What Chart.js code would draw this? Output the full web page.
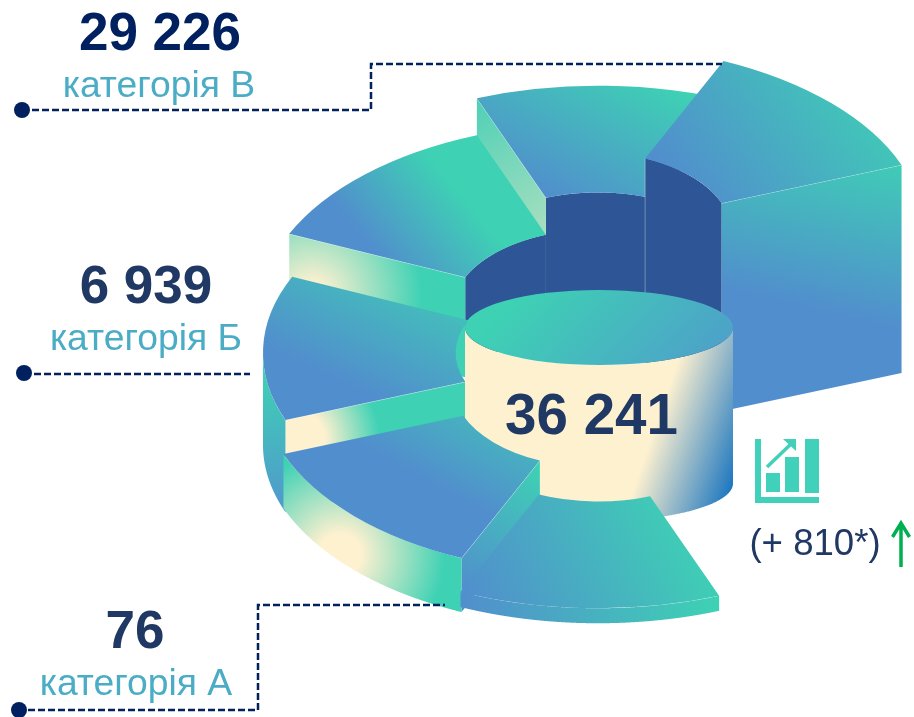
<!DOCTYPE html>
<html>
<head>
<meta charset="utf-8">
<style>
  html, body { margin: 0; padding: 0; background: #fff; overflow: hidden; }
  #stage { position: relative; width: 914px; height: 717px; }
  canvas, svg { position: absolute; left: 0; top: 0; }
  text { font-family: "Liberation Sans", Arial, sans-serif; }
</style>
<script src="https://cdn.jsdelivr.net/npm/chart.js"></script>
</head>
<body>
<div id="stage">
  <canvas id="ringBack" width="914" height="717"></canvas>
  <canvas id="hub" width="914" height="717"></canvas>
  <canvas id="ringFront" width="914" height="717"></canvas>
  <svg id="notes" width="914" height="717"></svg>
</div>
<script>
// values as printed on the picture
const categoryNames = ['категорія В', 'категорія Б', 'категорія А'];
const categoryValues = ['29 226', '6 939', '76'];
const totalValue = 36241;
const totalLabel = '36 241';
const changeLabel = '(+ 810*)';

const sliceNames = ['bottom left', 'left', 'upper left', 'top', 'right', 'gap', 'bottom'];
const sliceSpans = [45, 45, 45, 45, 45, 90, 45];
const ringRotation = -156;

const TEAL = '#3ed1b4', BLUE = '#518ecd', CREAM = '#fef1d0', DARK = '#2e5596';

// how each wedge is pulled out and how tall it is, in screen pixels
const solids = [
  { cx: 599, cy: 387, q: 0.554, h: 54,
    top: { to: [430, 500, 590, 410], stops: [[0.1, BLUE], [1, TEAL]] },
    start: { to: [535, 465, 465, 590], stops: [[0, TEAL], [1, BLUE]] },
    outer: { to: [340, 555, 105], stops: [[0.2, CREAM], [1, TEAL]] } },
  { cx: 601, cy: 353, q: 0.554, h: 92,
    top: { to: [330, 395, 500, 285], stops: [[0.1, BLUE], [1, TEAL]] },
    start: { to: [295, 440, 85], stops: [[0.35, CREAM], [1, TEAL]] },
    outer: { to: [262, 370, 278, 500], stops: [[0, TEAL], [1, '#4f9ccb']] } },
  { cx: 598, cy: 310, q: 0.554, h: 100,
    top: { to: [355, 228, 465, 200], stops: [[0, BLUE], [1, TEAL]] },
    start: { to: [312, 295, 110], stops: [[0.1, CREAM], [1, TEAL]] },
    inner: DARK },
  { cx: 598, cy: 273, q: 0.554, h: 130,
    top: { to: [530, 190, 690, 95], stops: [[0, BLUE], [1, TEAL]] },
    start: { to: [475, 100, 548, 235], stops: [[0, '#4fd0b6'], [1, '#a9dfc0']] },
    inner: DARK },
  { cx: 586, cy: 232, q: 0.554, h: 208,
    top: { to: [680, 190, 930, 130], stops: [[0, BLUE], [1, TEAL]] },
    end: { to: [900, 150, 860, 320], stops: [[0, TEAL], [1, BLUE]] },
    inner: DARK, innerEdge: true },
  null,
  { cx: 598, cy: 421, q: 0.554, h: 15,
    top: { to: [470, 610, 720, 570], stops: [[0, BLUE], [1, TEAL]] },
    outer: { to: [460, 615, 715, 600], stops: [[0, BLUE], [1, TEAL]] } }
];

const hubSolid = { cx: 599, cy: 327.5, q: 0.28, h: 156,
  top: { to: [495, 320, 760, 340], stops: [[0, TEAL], [1, '#4f9ccb']] },
  outer: { to: [685, 340, 772, 370], stops: [[0, CREAM], [1, '#1f78c0']] } };

function makeFill(ctx, spec) {
  if (typeof spec === 'string') return spec;
  const t = spec.to;
  const g = t.length === 3
    ? ctx.createRadialGradient(t[0], t[1], 0, t[0], t[1], t[2])
    : ctx.createLinearGradient(t[0], t[1], t[2], t[3]);
  spec.stops.forEach(s => g.addColorStop(s[0], s[1]));
  return g;
}

// gradient for the top face, moved from screen space into the arc's own unsquashed space
function topFill(c, solid) {
  if (!solid) return 'rgba(0,0,0,0)';
  const mx = c.chart.width / 2, my = c.chart.height / 2;
  const t = solid.top.to;
  const local = [
    mx + t[0] - solid.cx, my + (t[1] - solid.cy) / solid.q,
    mx + t[2] - solid.cx, my + (t[3] - solid.cy) / solid.q
  ];
  return makeFill(c.chart.ctx, { to: local, stops: solid.top.stops });
}

function wallPath(ctx, arc, s, r, from, to, wanted) {
  const top = [];
  const steps = 720;
  for (let i = 0; i <= steps; i++) {
    const a = from + (to - from) * i / steps;
    if (wanted(a)) top.push([s.cx + r * Math.cos(a), s.cy + r * Math.sin(a) * s.q]);
  }
  if (top.length < 2) return false;
  ctx.beginPath();
  top.forEach((p, i) => i ? ctx.lineTo(p[0], p[1]) : ctx.moveTo(p[0], p[1]));
  top.reverse().forEach(p => ctx.lineTo(p[0], p[1] + s.h));
  ctx.closePath();
  return true;
}

function sidePath(ctx, arc, s, a) {
  const c = Math.cos(a), n = Math.sin(a) * s.q;
  const ix = s.cx + arc.innerRadius * c, iy = s.cy + arc.innerRadius * n;
  const ox = s.cx + arc.outerRadius * c, oy = s.cy + arc.outerRadius * n;
  ctx.beginPath();
  ctx.moveTo(ix, iy);
  ctx.lineTo(ox, oy);
  ctx.lineTo(ox, oy + s.h);
  ctx.lineTo(ix, iy + s.h);
  ctx.closePath();
  // pale seam along the top edge
  return [ix, iy, ox, oy];
}

function seam(ctx, e, alpha) {
  ctx.save();
  ctx.strokeStyle = 'rgba(255,255,255,' + alpha + ')';
  ctx.lineWidth = 1;
  ctx.beginPath();
  ctx.moveTo(e[0], e[1]);
  ctx.lineTo(e[2], e[3]);
  ctx.stroke();
  ctx.restore();
}

function drawSolid(ctx, arc, s) {
  const from = arc.startAngle, to = arc.endAngle;
  if (s.inner && wallPath(ctx, arc, s, arc.innerRadius, from, to, a => Math.sin(a) < 0)) {
    ctx.fillStyle = makeFill(ctx, s.inner);
    ctx.fill();
    if (s.innerEdge) {
      const x = s.cx + arc.innerRadius * Math.cos(from), y = s.cy + arc.innerRadius * Math.sin(from) * s.q;
      seam(ctx, [x, y, x, y + s.h], 0.35);
    }
  }
  if (s.start && Math.cos(from) < 0) {
    const e = sidePath(ctx, arc, s, from);
    ctx.fillStyle = makeFill(ctx, s.start);
    ctx.fill();
    seam(ctx, e, 0.55);
  }
  if (s.end && Math.cos(to) > 0) {
    const e = sidePath(ctx, arc, s, to);
    ctx.fillStyle = makeFill(ctx, s.end);
    ctx.fill();
    seam(ctx, e, 0.55);
  }
  if (s.outer && wallPath(ctx, arc, s, arc.outerRadius, from, to, a => Math.sin(a) > 0)) {
    ctx.fillStyle = makeFill(ctx, s.outer);
    ctx.fill();
  }
  // the top face is the library's own arc, squashed and moved into place
  ctx.save();
  ctx.translate(s.cx, s.cy);
  ctx.scale(1, s.q);
  ctx.translate(-arc.x, -arc.y);
  arc.draw(ctx);
  ctx.restore();
}

const solidPlugin = {
  id: 'solid3d',
  beforeDatasetsDraw(chart, args, opts) {
    const arcs = chart.getDatasetMeta(0).data;
    opts.order.forEach(i => drawSolid(chart.ctx, arcs[i], opts.solids[i]));
    return false;
  }
};

function baseOptions(order, list, rotation) {
  return {
    responsive: false,
    animation: false,
    rotation: rotation,
    events: [],
    plugins: {
      legend: { display: false },
      tooltip: { enabled: false },
      solid3d: { order: order, solids: list }
    }
  };
}

function makeRing(id, order) {
  return new Chart(document.getElementById(id), {
    type: 'doughnut',
    plugins: [solidPlugin],
    data: {
      labels: sliceNames,
      datasets: [{
        data: sliceSpans,
        radius: 338,
        cutout: '43%',
        borderWidth: 0,
        backgroundColor: c => topFill(c, solids[c.dataIndex])
      }]
    },
    options: baseOptions(order, solids, ringRotation)
  });
}

// painter's order: back wedges, then the hub, then the wedges in front of it
makeRing('ringBack', [3, 4, 2, 1]);

new Chart(document.getElementById('hub'), {
  type: 'pie',
  plugins: [solidPlugin],
  data: {
    labels: ['total'],
    datasets: [{
      data: [totalValue],
      radius: 134,
      borderWidth: 0,
      backgroundColor: c => topFill(c, hubSolid)
    }]
  },
  options: baseOptions([0], [hubSolid], 0)
});

makeRing('ringFront', [0, 6]);

// labels, leader lines and the little icon
const NS = 'http://www.w3.org/2000/svg';
const notes = document.getElementById('notes');
function add(tag, attrs, txt) {
  const el = document.createElementNS(NS, tag);
  Object.keys(attrs).forEach(k => el.setAttribute(k, attrs[k]));
  if (txt) el.textContent = txt;
  notes.appendChild(el);
  return el;
}

const VALUE_COLORS = ['#002060', '#203864', '#203864'];
const valuePos = [[160, 49.5], [146, 303], [135, 648]];
const namePos = [[159, 97], [146, 350], [136, 695]];
categoryValues.forEach((v, i) => {
  add('text', { x: valuePos[i][0], y: valuePos[i][1], 'text-anchor': 'middle', 'font-size': 53, 'font-weight': 700, fill: VALUE_COLORS[i] }, v);
  add('text', { x: namePos[i][0], y: namePos[i][1], 'text-anchor': 'middle', 'font-size': 37.3, fill: '#4bacc6' }, categoryNames[i]);
});
add('text', { x: 591.5, y: 434, 'text-anchor': 'middle', 'font-size': 56.5, 'font-weight': 700, fill: '#203864' }, totalLabel);
add('text', { x: 815, y: 555, 'text-anchor': 'middle', 'font-size': 36.6, fill: '#203864' }, changeLabel);

const leaders = [
  { dot: [22, 110], line: '32,110 371,110 371,64 722,64' },
  { dot: [24, 373], line: '34,374 250,374' },
  { dot: [19, 710], line: '28,710 258,710 258,605 445,605' }
];
leaders.forEach(l => {
  add('polyline', { points: l.line, fill: 'none', stroke: '#002060', 'stroke-width': 2.5, 'stroke-dasharray': '7 3' });
  add('circle', { cx: l.dot[0], cy: l.dot[1], r: 8, fill: '#002060' });
});

const ICON = '#41d1ba';
add('path', { d: 'M755 439h6v58h58v6h-64z', fill: ICON });
add('rect', { x: 766, y: 473, width: 14, height: 19, fill: ICON });
add('rect', { x: 785, y: 457, width: 14, height: 35, fill: ICON });
add('rect', { x: 805, y: 439, width: 14, height: 54, fill: ICON });
add('path', { d: 'M767 467L792 443', stroke: ICON, 'stroke-width': 3.5, fill: 'none' });
add('path', { d: 'M783 439h13v12z', fill: ICON });

add('path', { d: 'M901 567V523M892.5 537L901 523L909.5 537', stroke: '#00b050', 'stroke-width': 3.5, fill: 'none' });
</script>
</body>
</html>
